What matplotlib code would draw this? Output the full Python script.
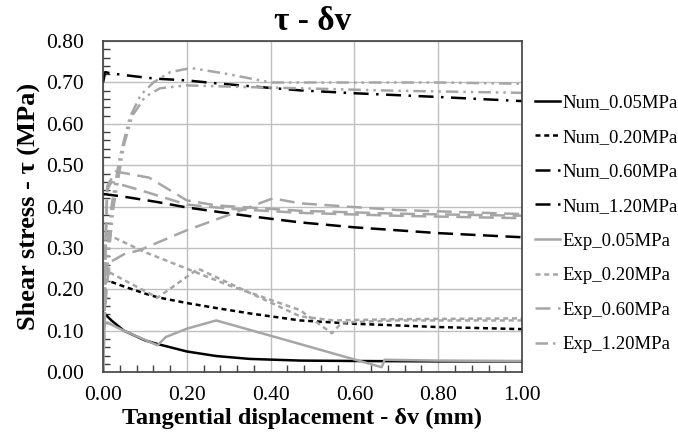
import numpy as np
import matplotlib.pyplot as plt
from matplotlib.ticker import MultipleLocator

plt.rcParams['font.family'] = ['Liberation Serif', 'DejaVu Serif']

# 数值模拟曲线
num_x = [0.0, 0.005, 0.02, 0.05, 0.10, 0.13, 0.20, 0.27, 0.35, 0.47, 0.60, 0.80, 1.00]
num_005 = [0.145, 0.140, 0.125, 0.100, 0.077, 0.068, 0.050, 0.039, 0.032, 0.028, 0.027, 0.026, 0.026]
num_020 = [0.225, 0.223, 0.218, 0.207, 0.190, 0.181, 0.167, 0.155, 0.142, 0.125, 0.117, 0.109, 0.104]
num_060 = [0.430, 0.430, 0.428, 0.424, 0.416, 0.411, 0.398, 0.388, 0.377, 0.362, 0.350, 0.336, 0.326]
num_120 = [0.700, 0.725, 0.722, 0.718, 0.712, 0.709, 0.705, 0.698, 0.691, 0.681, 0.674, 0.665, 0.655]

# 试验曲线 (每组可能有多条)
exp_005_x = [0.0, 0.003, 0.01, 0.05, 0.13, 0.15, 0.20, 0.27, 0.47, 0.665, 0.672, 0.80, 1.00]
exp_005_y = [0.0, 0.120, 0.120, 0.100, 0.065, 0.085, 0.105, 0.125, 0.068, 0.012, 0.030, 0.028, 0.027]

exp_020a_x = [0.0, 0.003, 0.006, 0.10, 0.30, 0.47, 0.546, 0.57, 0.70, 1.00]
exp_020a_y = [0.0, 0.200, 0.335, 0.290, 0.210, 0.150, 0.094, 0.120, 0.125, 0.125]
exp_020b_x = [0.0, 0.004, 0.008, 0.13, 0.227, 0.47, 0.55, 0.70, 1.00]
exp_020b_y = [0.0, 0.150, 0.245, 0.180, 0.250, 0.135, 0.125, 0.128, 0.130]

exp_060a_x = [0.0, 0.005, 0.01, 0.03, 0.11, 0.20, 0.27, 0.47, 0.70, 1.00]
exp_060a_y = [0.0, 0.300, 0.450, 0.485, 0.470, 0.415, 0.403, 0.390, 0.383, 0.378]
exp_060b_x = [0.0, 0.005, 0.01, 0.02, 0.088, 0.20, 0.30, 0.47, 0.70, 1.00]
exp_060b_y = [0.0, 0.250, 0.440, 0.460, 0.440, 0.405, 0.395, 0.385, 0.378, 0.372]
exp_060c_x = [0.0, 0.005, 0.01, 0.017, 0.05, 0.088, 0.20, 0.30, 0.405, 0.47, 0.70, 1.00]
exp_060c_y = [0.0, 0.150, 0.220, 0.266, 0.285, 0.295, 0.343, 0.380, 0.420, 0.408, 0.392, 0.382]

exp_120a_x = [0.0, 0.005, 0.02, 0.04, 0.064, 0.09, 0.12, 0.16, 0.21, 0.30, 0.40, 0.60, 0.80, 1.00]
exp_120a_y = [0.0, 0.250, 0.400, 0.520, 0.616, 0.670, 0.700, 0.725, 0.735, 0.720, 0.700, 0.700, 0.700, 0.697]
exp_120b_x = [0.0, 0.005, 0.025, 0.05, 0.07, 0.10, 0.136, 0.20, 0.30, 0.47, 0.70, 1.00]
exp_120b_y = [0.0, 0.200, 0.400, 0.550, 0.620, 0.665, 0.686, 0.693, 0.690, 0.686, 0.680, 0.675]

gray = '#a6a6a6'
fig = plt.figure(figsize=(6.78, 4.42), dpi=100)
ax = fig.add_axes([0.152, 0.158, 0.618, 0.749])

lw = 1.8
ax.plot(num_x, num_005, color='black', lw=lw, ls='-', label='Num_0.05MPa')
ax.plot(num_x, num_020, color='black', lw=lw, ls=(0, (2, 1.5)), label='Num_0.20MPa')
ax.plot(num_x, num_060, color='black', lw=lw, ls=(0, (6, 3)), label='Num_0.60MPa')
ax.plot(num_x, num_120, color='black', lw=lw, ls=(0, (6, 3, 1, 3)), label='Num_1.20MPa')

ax.plot(exp_005_x, exp_005_y, color=gray, lw=lw, ls='-', label='Exp_0.05MPa')
ax.plot(exp_020a_x, exp_020a_y, color=gray, lw=lw, ls=(0, (2, 1.5)), label='Exp_0.20MPa')
ax.plot(exp_020b_x, exp_020b_y, color=gray, lw=lw, ls=(0, (2, 1.5)))
ax.plot(exp_060a_x, exp_060a_y, color=gray, lw=lw, ls=(0, (6, 3)), label='Exp_0.60MPa')
ax.plot(exp_060b_x, exp_060b_y, color=gray, lw=lw, ls=(0, (6, 3)))
ax.plot(exp_060c_x, exp_060c_y, color=gray, lw=lw, ls=(0, (6, 3)))
ax.plot(exp_120a_x, exp_120a_y, color=gray, lw=lw, ls=(0, (5, 2, 1, 2, 1, 2)), label='Exp_1.20MPa')
ax.plot(exp_120b_x, exp_120b_y, color=gray, lw=lw, ls=(0, (5, 2, 1, 2, 1, 2)))

ax.set_xlim(0, 1)
ax.set_ylim(0, 0.8)
ax.xaxis.set_major_locator(MultipleLocator(0.2))
ax.xaxis.set_minor_locator(MultipleLocator(0.04))
ax.yaxis.set_major_locator(MultipleLocator(0.1))
ax.yaxis.set_minor_locator(MultipleLocator(0.02))
ax.xaxis.set_major_formatter(plt.FormatStrFormatter('%.2f'))
ax.yaxis.set_major_formatter(plt.FormatStrFormatter('%.2f'))
ax.grid(True, which='major', color='#bfbfbf', lw=1)
ax.tick_params(which='both', direction='in', top=False, right=False, labelsize=15.5, pad=14)
ax.tick_params(axis='x', which='both', pad=10)
ax.tick_params(which='major', length=0)
ax.tick_params(which='minor', length=5, width=1, color='#404040')
for s in ax.spines.values():
    s.set_color('#404040')
    s.set_linewidth(1.2)

ax.set_title('τ - δv', fontsize=24, fontweight='bold', pad=8)
ax.set_xlabel('Tangential displacement - δv (mm)', fontsize=17.5, fontweight='bold')
ax.set_ylabel('Shear stress - τ (MPa)', fontsize=19, fontweight='bold', labelpad=4)
ax.xaxis.set_label_coords(0.475, -0.108)

fig.legend(loc='upper left', bbox_to_anchor=(0.789, 0.787), frameon=False,
           fontsize=13.5, handlelength=1.35, handletextpad=0.1, labelspacing=0.93,
           borderaxespad=0, borderpad=0)

fig.savefig('out.png', dpi=100)
